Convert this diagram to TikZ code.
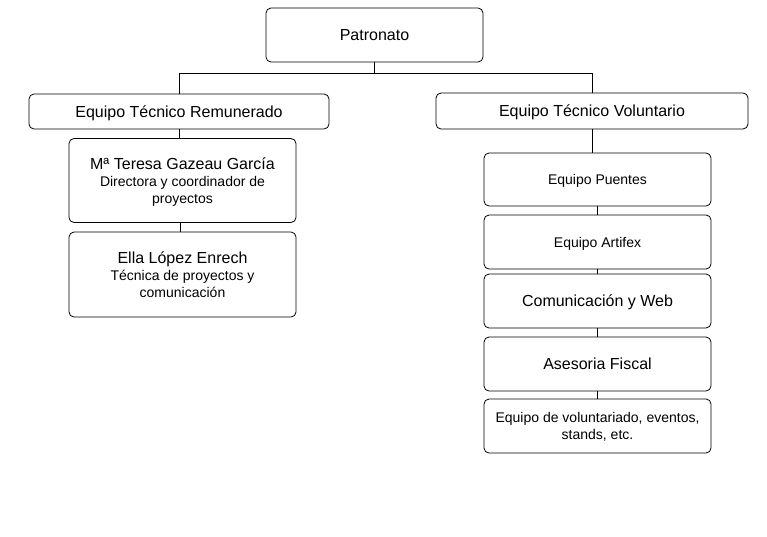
\documentclass[tikz,border=0pt]{standalone}
\usepackage{fontspec}
\setmainfont{Liberation Sans}
\begin{document}
\begin{tikzpicture}[x=1pt,y=-1pt,
  box/.style={draw=black,line width=0.8pt,rounded corners=5pt,inner sep=0pt,align=center,fill=white,text depth=0pt},
  big/.style={font=\fontsize{16}{18}\selectfont},
  small/.style={font=\fontsize{14}{17}\selectfont},
  conn/.style={draw=black,line width=0.8pt}]
\useasboundingbox[fill=white] (0,0) rectangle (767,536);
\node[box,big,minimum width=217pt,minimum height=54pt] (pat) at (374.5,35) {Patronato};
\node[box,big,minimum width=300pt,minimum height=35pt] (etr) at (179,111.5) {Equipo Técnico Remunerado};
\node[box,big,minimum width=312pt,minimum height=36pt] (etv) at (592,111) {Equipo Técnico Voluntario};
\node[box,small,minimum width=227pt,minimum height=84pt] (ter) at (182.5,180.5) {{\fontsize{16}{17}\selectfont Mª Teresa Gazeau García}\\Directora y coordinador de\\proyectos};
\node[box,small,minimum width=227pt,minimum height=85pt] (ella) at (182.5,274.5) {{\fontsize{16}{17}\selectfont Ella López Enrech}\\Técnica de proyectos y\\comunicación};
\node[box,small,minimum width=227pt,minimum height=53pt] (pue) at (597.5,179.5) {Equipo Puentes};
\node[box,small,minimum width=227pt,minimum height=54pt] (art) at (597.5,242) {Equipo Artifex};
\node[box,big,minimum width=227pt,minimum height=54pt] (com) at (597.5,301) {Comunicación y Web};
\node[box,big,minimum width=227pt,minimum height=54pt] (ase) at (597.5,364) {Asesoria Fiscal};
\node[box,small,minimum width=227pt,minimum height=54pt] (vol) at (597.5,426) {Equipo de voluntariado, eventos,\\stands, etc.};
\coordinate (bus) at (374.5,73);
\draw[conn] (pat.south) -- (bus) -| (etr.north);
\draw[conn] (bus) -| (etv.north);
\draw[conn] (etr.south) -- (etr.south |- ter.north);
\draw[conn] ([xshift=-2pt]ter.south) -- ([xshift=-2pt]ter.south |- ella.north);
\draw[conn] (etv.south) -- (etv.south |- pue.north);
\draw[conn] (pue.south) -- (art.north);
\draw[conn] (art.south) -- (com.north);
\draw[conn] (com.south) -- (ase.north);
\draw[conn] (ase.south) -- (vol.north);
\end{tikzpicture}
\end{document}
